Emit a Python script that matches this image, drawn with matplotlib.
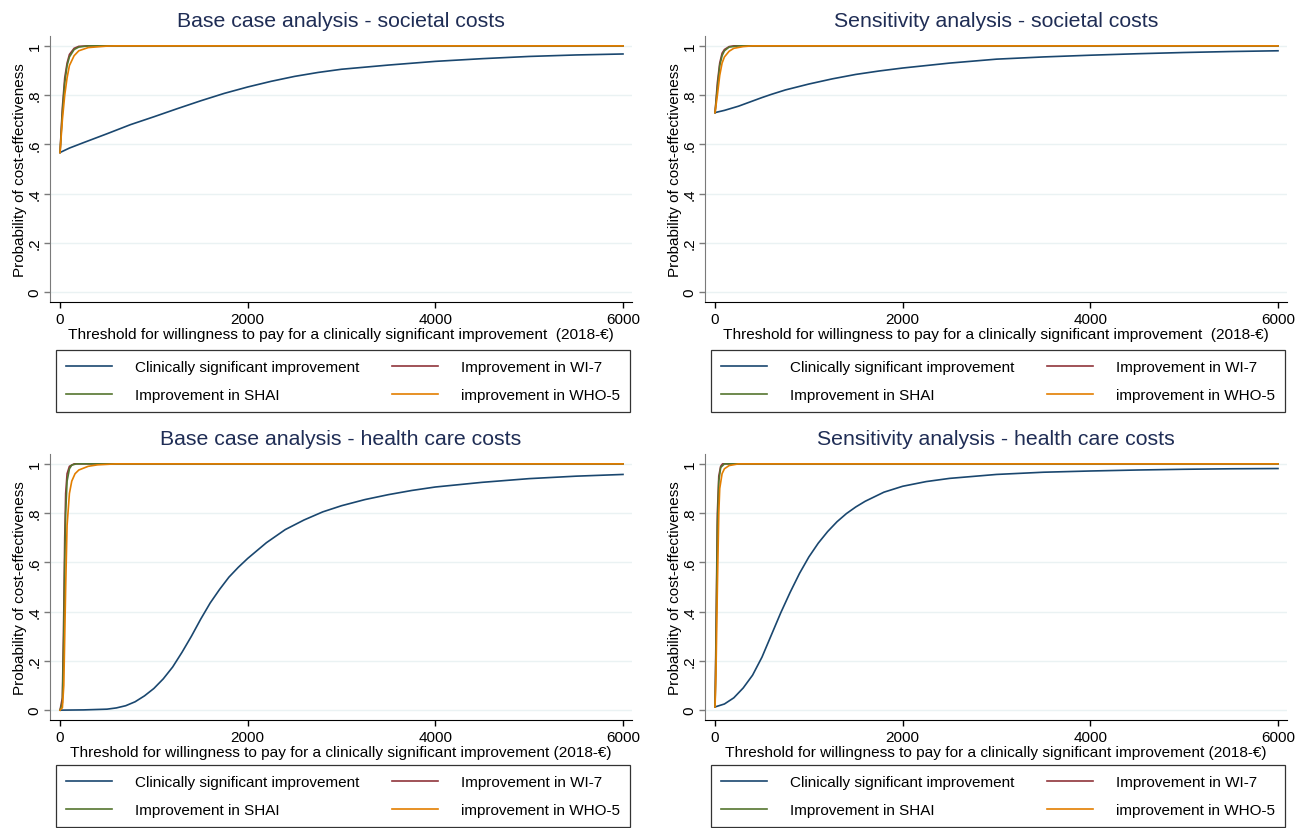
import matplotlib
matplotlib.use("Agg")
import matplotlib.pyplot as plt

plt.rcParams['font.family'] = ['Liberation Sans', 'DejaVu Sans']

# Stata s2color palette
NAVY = '#1a476f'
MAROON = '#90353b'
GREEN = '#55752f'
ORANGE = '#e37e00'
TITLE_COLOR = '#1f2d55'
GRID_COLOR = '#eaf2f3'

LABELS = ['Clinically significant improvement', 'Improvement in WI-7',
          'Improvement in SHAI', 'improvement in WHO-5']

# ---- Base case - societal costs
bs_x_csi = [0, 100, 250, 500, 750, 1000, 1250, 1500, 1750, 2000, 2250, 2500, 2750, 3000,
            3500, 4000, 4500, 5000, 5500, 6000]
bs_y_csi = [0.567, 0.585, 0.607, 0.643, 0.68, 0.712, 0.745, 0.777, 0.807, 0.833, 0.856, 0.876,
            0.892, 0.905, 0.922, 0.937, 0.948, 0.957, 0.963, 0.967]
bs_x_wi7 = [0, 25, 50, 75, 100, 150, 200, 300, 6000]
bs_y_wi7 = [0.567, 0.75, 0.87, 0.93, 0.965, 0.99, 0.998, 1.0, 1.0]
bs_x_shai = [0, 25, 50, 75, 100, 150, 200, 300, 6000]
bs_y_shai = [0.567, 0.73, 0.85, 0.92, 0.955, 0.985, 0.995, 1.0, 1.0]
bs_x_who = [0, 25, 50, 75, 100, 150, 200, 300, 500, 600, 6000]
bs_y_who = [0.567, 0.70, 0.80, 0.87, 0.92, 0.96, 0.98, 0.993, 0.999, 1.0, 1.0]

# ---- Sensitivity - societal costs
ss_x_csi = [0, 100, 250, 400, 500, 600, 750, 1000, 1250, 1500, 1750, 2000, 2500, 3000, 3500,
            4000, 4500, 5000, 5500, 6000]
ss_y_csi = [0.729, 0.738, 0.755, 0.776, 0.79, 0.803, 0.821, 0.845, 0.866, 0.884, 0.898,
            0.91, 0.93, 0.946, 0.955, 0.962, 0.968, 0.973, 0.977, 0.98]
ss_x_wi7 = [0, 25, 50, 75, 100, 150, 200, 6000]
ss_y_wi7 = [0.729, 0.85, 0.93, 0.97, 0.985, 0.997, 1.0, 1.0]
ss_x_shai = [0, 25, 50, 75, 100, 150, 250, 6000]
ss_y_shai = [0.729, 0.83, 0.92, 0.96, 0.98, 0.995, 1.0, 1.0]
ss_x_who = [0, 25, 50, 75, 100, 150, 200, 300, 400, 6000]
ss_y_who = [0.729, 0.80, 0.88, 0.93, 0.955, 0.978, 0.99, 0.997, 1.0, 1.0]

# ---- Base case - health care costs
bh_x_csi = [0, 250, 500, 600, 700, 800, 900, 1000, 1100, 1200, 1300, 1400, 1500, 1600,
            1700, 1800, 1900, 2000, 2200, 2400, 2600, 2800, 3000, 3250, 3500, 3750, 4000,
            4500, 5000, 5500, 6000]
bh_y_csi = [0, 0.001, 0.004, 0.009, 0.018, 0.034, 0.058, 0.088, 0.127, 0.175, 0.235, 0.30,
            0.37, 0.435, 0.49, 0.54, 0.58, 0.616, 0.68, 0.733, 0.772, 0.805, 0.83, 0.855,
            0.875, 0.892, 0.906, 0.925, 0.94, 0.95, 0.957]
bh_x_wi7 = [0, 25, 40, 50, 60, 75, 100, 150, 6000]
bh_y_wi7 = [0, 0.05, 0.4, 0.7, 0.88, 0.96, 0.99, 1.0, 1.0]
bh_x_shai = [0, 25, 40, 50, 60, 75, 100, 125, 175, 6000]
bh_y_shai = [0, 0.03, 0.3, 0.6, 0.8, 0.93, 0.98, 0.995, 1.0, 1.0]
bh_x_who = [0, 25, 40, 50, 60, 75, 100, 125, 160, 200, 300, 400, 600, 6000]
bh_y_who = [0, 0.01, 0.1, 0.3, 0.5, 0.75, 0.88, 0.93, 0.96, 0.975, 0.99, 0.996, 1.0, 1.0]

# ---- Sensitivity - health care costs
sh_x_csi = [0, 100, 200, 300, 400, 500, 600, 700, 800, 900, 1000, 1100, 1200, 1300, 1400,
            1500, 1600, 1800, 2000, 2250, 2500, 3000, 3500, 4000, 4500, 5000, 5500, 6000]
sh_y_csi = [0.013, 0.025, 0.05, 0.09, 0.142, 0.215, 0.305, 0.395, 0.478, 0.555, 0.622, 0.678,
            0.725, 0.765, 0.798, 0.825, 0.848, 0.885, 0.909, 0.928, 0.941, 0.957, 0.966, 0.971,
            0.975, 0.978, 0.98, 0.981]
sh_x_wi7 = [0, 10, 25, 40, 60, 80, 6000]
sh_y_wi7 = [0.013, 0.3, 0.8, 0.95, 0.99, 1.0, 1.0]
sh_x_shai = [0, 10, 25, 40, 60, 100, 6000]
sh_y_shai = [0.013, 0.25, 0.75, 0.93, 0.985, 1.0, 1.0]
sh_x_who = [0, 10, 25, 40, 50, 75, 100, 150, 250, 6000]
sh_y_who = [0.013, 0.15, 0.5, 0.8, 0.9, 0.96, 0.98, 0.993, 1.0, 1.0]

XLABEL_TOP = 'Threshold for willingness to pay for a clinically significant improvement  (2018-€)'
XLABEL_BOT = 'Threshold for willingness to pay for a clinically significant improvement (2018-€)'

panels = [
    ('Base case analysis - societal costs', XLABEL_TOP,
     (bs_x_csi, bs_y_csi), (bs_x_wi7, bs_y_wi7), (bs_x_shai, bs_y_shai), (bs_x_who, bs_y_who)),
    ('Sensitivity analysis - societal costs', XLABEL_TOP,
     (ss_x_csi, ss_y_csi), (ss_x_wi7, ss_y_wi7), (ss_x_shai, ss_y_shai), (ss_x_who, ss_y_who)),
    ('Base case analysis - health care costs', XLABEL_BOT,
     (bh_x_csi, bh_y_csi), (bh_x_wi7, bh_y_wi7), (bh_x_shai, bh_y_shai), (bh_x_who, bh_y_who)),
    ('Sensitivity analysis - health care costs', XLABEL_BOT,
     (sh_x_csi, sh_y_csi), (sh_x_wi7, sh_y_wi7), (sh_x_shai, sh_y_shai), (sh_x_who, sh_y_who)),
]

W, H = 1304, 829
fig = plt.figure(figsize=(W / 100, H / 100), dpi=100)

# axes boxes in pixels: left, top, right, bottom
ax_boxes = [(50, 37, 632, 303), (705, 37, 1287, 303),
            (50, 455, 632, 721), (705, 455, 1287, 721)]
# legend boxes in pixels: left, top, right
leg_boxes = [(56, 351, 630), (711, 351, 1285),
             (56, 766, 630), (711, 766, 1285)]

for (title, xlabel, csi, wi7, shai, who), box, lbox in zip(panels, ax_boxes, leg_boxes):
    l, t, r, b = box
    ax = fig.add_axes([l / W, 1 - b / H, (r - l) / W, (b - t) / H])
    ax.set_xlim(-107, 6096)
    ax.set_ylim(-0.04, 1.04)
    yt = [0, 0.2, 0.4, 0.6, 0.8, 1.0]
    ax.set_yticks(yt)
    ax.set_yticklabels(['0', '.2', '.4', '.6', '.8', '1'], rotation=90, va='center')
    ax.set_xticks([0, 2000, 4000, 6000])
    for v in yt:
        ax.axhline(v, color=GRID_COLOR, lw=1.0, zorder=0)

    h1, = ax.plot(*csi, color=NAVY, lw=1.2)
    h2, = ax.plot(*wi7, color=MAROON, lw=1.2)
    h3, = ax.plot(*shai, color=GREEN, lw=1.2)
    h4, = ax.plot(*who, color=ORANGE, lw=1.2)

    ax.spines['top'].set_visible(False)
    ax.spines['right'].set_visible(False)
    ax.spines['left'].set_color('#7a7a7a')
    ax.spines['bottom'].set_color('black')
    ax.tick_params(axis='y', length=4, width=1, color='#7a7a7a', labelsize=11, pad=2)
    ax.tick_params(axis='x', length=4, width=1, color='black', labelsize=11, pad=3)

    ax.set_title(title, fontsize=15.3, color=TITLE_COLOR, pad=7.5)
    ax.set_xlabel(xlabel, fontsize=11.1, labelpad=1)
    ax.set_ylabel('Probability of cost-effectiveness', fontsize=11, labelpad=0.8)

    ll, lt, lr = lbox
    leg = ax.legend([h1, h3, h2, h4], [LABELS[0], LABELS[2], LABELS[1], LABELS[3]],
                    ncol=2, loc='upper left', mode='expand',
                    bbox_to_anchor=(ll / W, 1 - lt / H, (lr - ll) / W, 0),
                    bbox_transform=fig.transFigure, fontsize=11, frameon=True,
                    fancybox=False, edgecolor='black', handlelength=3.0,
                    handletextpad=1.5, labelspacing=0.95, borderpad=0.65,
                    borderaxespad=0)
    leg.get_frame().set_linewidth(0.9)

fig.savefig('out.png', dpi=100, facecolor='white')
